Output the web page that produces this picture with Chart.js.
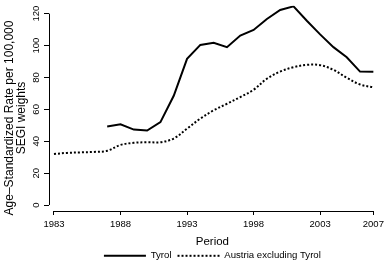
<!DOCTYPE html>
<html>
<head>
<meta charset="utf-8">
<script src="https://cdn.jsdelivr.net/npm/chart.js@4.4.1/dist/chart.umd.min.js"></script>
<style>
  html, body { margin: 0; padding: 0; background: #fff; }
  #wrap { width: 388px; height: 260px; position: relative; }
</style>
</head>
<body>
<div id="wrap"><canvas id="chart"></canvas></div>
<script>
// Values
const years = [1983, 1984, 1985, 1986, 1987, 1988, 1989, 1990, 1991, 1992, 1993, 1994, 1995,
               1996, 1997, 1998, 1999, 2000, 2001, 2002, 2003, 2004, 2005, 2006, 2007];
const tyrol = [null, null, null, null, 49.2, 50.6, 47.3, 46.7, 52.0, 68.5, 91.7, 100.4, 101.7,
               99.0, 106.3, 109.8, 116.7, 122.3, 124.6, 115.6, 107.0, 99.0, 92.7, 83.7, 83.5];
const austriaExTyrol = [32.0, 32.7, 33.0, 33.3, 34.0, 37.7, 39.0, 39.4, 39.4, 41.7, 47.9, 54.2, 59.4,
                        63.5, 67.7, 72.3, 79.2, 83.7, 86.4, 87.9, 87.7, 84.8, 79.8, 75.6, 73.8];
const xTicks = [1983, 1988, 1993, 1998, 2003, 2007];
const yTicks = [0, 20, 40, 60, 80, 100, 120];
const seriesNames = ['Tyrol', 'Austria excluding Tyrol'];
const xTitle = 'Period';
const yTitle = ['Age\u2013Standardized Rate per 100,000', 'SEGI weights'];

const FONT = '"Liberation Sans", Arial, sans-serif';

function toPoints(values) {
    return years.map((yr, i) => ({ x: yr, y: values[i] }));
}

// Stata-like axis lines that only span the tick range, plus the two-line y title
const axisLines = {
    id: 'axisLines',
    afterDraw(chart) {
        const { ctx, scales: { x, y } } = chart;
        ctx.save();
        ctx.strokeStyle = '#000';
        ctx.lineWidth = 1;
        ctx.beginPath();
        const lx = Math.round(x.left) + 0.5;
        ctx.moveTo(lx, y.getPixelForValue(yTicks[0]));
        ctx.lineTo(lx, y.getPixelForValue(yTicks[yTicks.length - 1]));
        const by = Math.round(y.bottom) + 0.5;
        ctx.moveTo(x.getPixelForValue(xTicks[0]), by);
        ctx.lineTo(x.getPixelForValue(xTicks[xTicks.length - 1]), by);
        ctx.stroke();

        // y axis title, rotated
        ctx.fillStyle = '#000';
        ctx.font = '12px ' + FONT;
        ctx.textAlign = 'center';
        ctx.textBaseline = 'middle';
        const cy = 118;
        yTitle.forEach((line, i) => {
            ctx.save();
            ctx.translate(10 + i * 12, cy);
            ctx.rotate(-Math.PI / 2);
            ctx.fillText(line, 0, 0);
            ctx.restore();
        });
        ctx.restore();
    }
};

new Chart(document.getElementById('chart'), {
    type: 'line',
    data: {
        datasets: [
            {
                label: seriesNames[0],
                data: toPoints(tyrol),
                borderColor: '#000',
                backgroundColor: '#000',
                borderWidth: 2,
                pointRadius: 0,
                tension: 0,
                spanGaps: false
            },
            {
                label: seriesNames[1],
                data: toPoints(austriaExTyrol),
                borderColor: '#000',
                backgroundColor: '#000',
                borderWidth: 2,
                borderDash: [2, 2],
                pointRadius: 0,
                tension: 0.35
            }
        ]
    },
    options: {
        responsive: true,
        maintainAspectRatio: false,
        devicePixelRatio: 1,
        animation: false,
        layout: { padding: { top: 5, right: 10, left: 0, bottom: 0 } },
        plugins: {
            tooltip: { enabled: false },
            legend: {
                position: 'bottom',
                fullSize: false,
                maxHeight: 15,
                labels: {
                    usePointStyle: true,
                    pointStyle: 'line',
                    pointStyleWidth: 42,
                    boxWidth: 42,
                    padding: 6,
                    color: '#000',
                    font: { family: FONT, size: 9.6 },
                    generateLabels: chart => {
                        const items = Chart.defaults.plugins.legend.labels.generateLabels(chart);
                        items.forEach((item, i) => {
                            item.lineDash = chart.data.datasets[i].borderDash || [];
                            item.lineWidth = 2;
                        });
                        return items;
                    }
                }
            }
        },
        scales: {
            x: {
                type: 'linear',
                min: 1982.627,
                max: 2007.18,
                afterBuildTicks: axis => { axis.ticks = xTicks.map(v => ({ value: v })); },
                afterFit: scale => { scale.height = 34; },
                ticks: {
                    autoSkip: false,
                    maxRotation: 0,
                    padding: 4,
                    color: '#000',
                    font: { family: FONT, size: 9.5 },
                    callback: v => String(v)
                },
                grid: { drawOnChartArea: false, drawTicks: true, tickLength: 4, color: '#000' },
                border: { display: false },
                title: {
                    display: true,
                    text: xTitle,
                    color: '#000',
                    padding: { top: 2, bottom: -4 },
                    font: { family: FONT, size: 11.5 }
                }
            },
            y: {
                type: 'linear',
                min: -3.75,
                max: 125,
                afterBuildTicks: axis => { axis.ticks = yTicks.map(v => ({ value: v })); },
                afterFit: scale => { scale.width = 49; },
                ticks: {
                    minRotation: 90,
                    maxRotation: 90,
                    crossAlign: 'center',
                    padding: 0,
                    color: '#000',
                    font: { family: FONT, size: 9.5 }
                },
                grid: { drawOnChartArea: false, drawTicks: true, tickLength: 5, color: '#000' },
                border: { display: false }
            }
        }
    },
    plugins: [axisLines]
});
</script>
</body>
</html>
